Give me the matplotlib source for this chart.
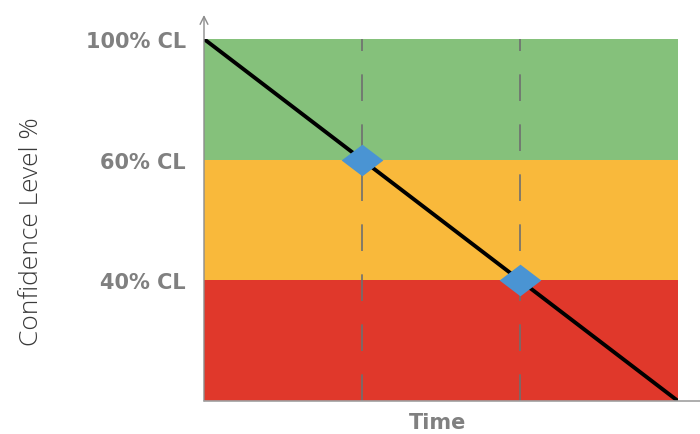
import matplotlib.pyplot as plt
from matplotlib.path import Path

# confidence bands, bottom to top (level index 0..3)
band_edges = [0, 1, 2, 3]
band_colors = ['#E0382B', '#F9B93B', '#85C17B']
tick_levels = [1, 2, 3]
tick_labels = ['40% CL', '60% CL', '100% CL']

# confidence decaying over time
line_t = [0, 3]
line_level = [3, 0]

# milestones where the line crosses a band edge
milestone_t = [1, 2]
milestone_level = [2, 1]

plt.rcParams['font.family'] = ['DejaVu Sans']

fig = plt.figure(figsize=(7, 4.35), dpi=100)
ax = fig.add_axes([204/700, 1 - 402/435, 474/700, 362/435])

for i, c in enumerate(band_colors):
    ax.axhspan(band_edges[i], band_edges[i + 1], color=c, lw=0, zorder=0)

for t in milestone_t:
    ax.axvline(t, color='#6f6f6f', lw=1.2, dashes=(16, 14), zorder=1)

ax.plot(line_t, line_level, color='black', lw=2.8, zorder=2, solid_capstyle='round')

diamond = Path([(-1, 0), (0, 0.76), (1, 0), (0, -0.76), (-1, 0)],
               [Path.MOVETO, Path.LINETO, Path.LINETO, Path.LINETO, Path.CLOSEPOLY])
ax.plot(milestone_t, milestone_level, ls='', marker=diamond, ms=30,
        color='#4A94D3', mec='none', zorder=3, clip_on=False)

ax.set_xlim(0, 3)
ax.set_ylim(0, 3)
ax.set_xticks([])
ax.set_yticks(tick_levels)
ax.set_yticklabels(tick_labels, fontsize=15, fontweight='bold', color='#808080')
ax.tick_params(axis='y', length=0, pad=13)
for s in ax.spines.values():
    s.set_visible(False)

# axis lines with arrow heads, running past the plot area
ax.annotate('', xy=(0, (402 - 16) / 362), xytext=(0, 0), xycoords='axes fraction',
            arrowprops=dict(arrowstyle='->', color='#8c8c8c', lw=1, mutation_scale=14,
                            shrinkA=0, shrinkB=0))
ax.annotate('', xy=(496 / 474, 0), xytext=(0, 0), xycoords='axes fraction',
            arrowprops=dict(arrowstyle='-', color='#a0a0a0', lw=1.2,
                            shrinkA=0, shrinkB=0))

ax.set_ylabel('Confidence Level %', fontsize=19, fontweight='light', color='#3a3a3a',
              family=['Open Sans', 'DejaVu Sans'])
ax.yaxis.set_label_coords((44 - 204) / 474, (402 - 232) / 362)
ax.set_xlabel('Time', fontsize=15, fontweight='bold', color='#808080')
ax.xaxis.set_label_coords((438 - 204) / 474, -(413 - 402) / 362)

fig.savefig('out.png', dpi=100)
